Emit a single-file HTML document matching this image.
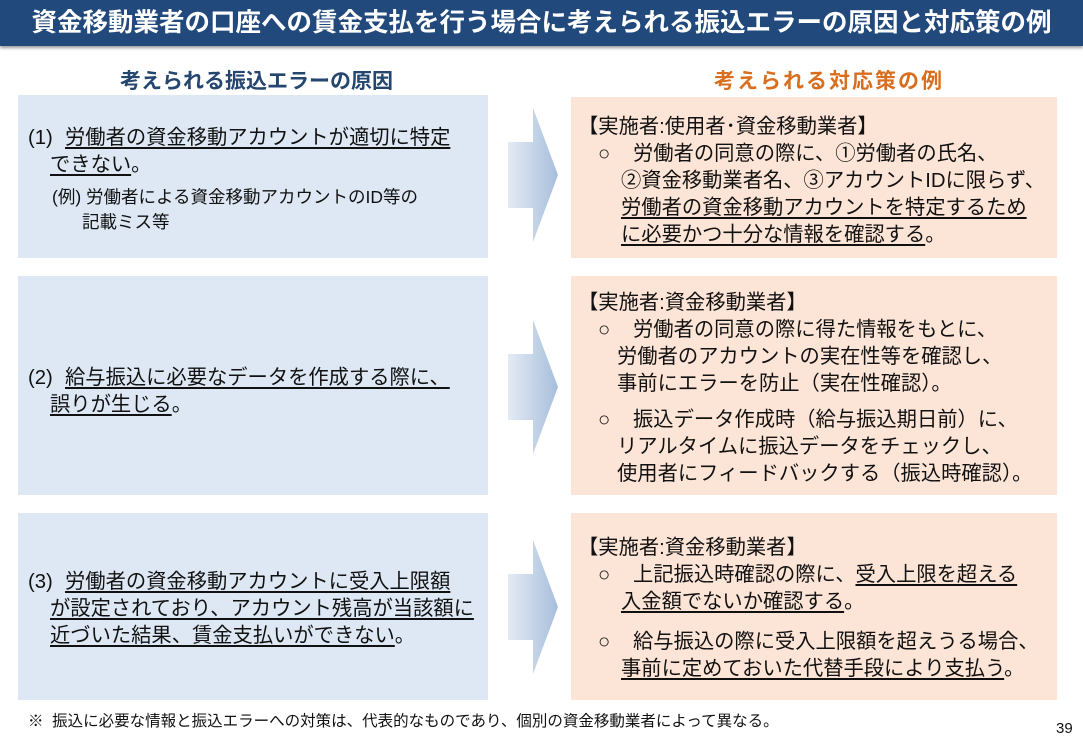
<!DOCTYPE html>
<html><head><meta charset="utf-8"><style>
body{margin:0;width:1083px;height:750px;background:#fff;position:relative;overflow:hidden;font-family:"Liberation Sans","Noto Sans CJK JP",sans-serif;color:#111}
.a{position:absolute;white-space:nowrap}
.title{left:0;top:0;width:1083px;height:46px;background:#21497c;color:#fff;font-size:25.5px;font-weight:bold;line-height:46px;text-align:center;box-shadow:0 2px 3px #999}
.lb{position:absolute;left:18px;width:470px;background:#dde8f4}
.rb{position:absolute;left:571px;width:486px;background:#fce4d6}
.t{font-size:20.3px;line-height:27px}
u{text-decoration:underline;text-underline-offset:3px}
.arrow{position:absolute;left:508px;width:50px;height:134px}
.c{font-size:17px}
</style></head><body>
<div class="a title">資金移動業者の口座への賃金支払を行う場合に考えられる振込エラーの原因と対応策の例</div>
<div class="a" style="left:120px;top:65px;font-size:21px;font-weight:bold;color:#24466f">考えられる振込エラーの原因</div>
<div class="a" style="left:714px;top:65px;font-size:21px;font-weight:bold;color:#d86e1e;letter-spacing:2px">考えられる対応策の例</div>

<div class="lb" style="top:95px;height:163px"></div>
<div class="lb" style="top:276px;height:219px"></div>
<div class="lb" style="top:513px;height:187px"></div>
<div class="rb" style="top:97px;height:161px"></div>
<div class="rb" style="top:276px;height:219px"></div>
<div class="rb" style="top:513px;height:187px"></div>

<svg class="arrow" style="top:108px" viewBox="0 0 50 134"><defs><linearGradient id="g" x1="0" x2="1"><stop offset="0" stop-color="#e4ebf4"/><stop offset="1" stop-color="#a6bedc"/></linearGradient></defs><polygon points="0,34 25,34 25,0 50,67 25,134 25,100 0,100" fill="url(#g)"/></svg>
<svg class="arrow" style="top:320px" viewBox="0 0 50 134"><polygon points="0,34 25,34 25,0 50,67 25,134 25,100 0,100" fill="url(#g)"/></svg>
<svg class="arrow" style="top:540px" viewBox="0 0 50 134"><polygon points="0,34 25,34 25,0 50,67 25,134 25,100 0,100" fill="url(#g)"/></svg>

<div class="a t" style="left:28px;top:125px">(1)</div>
<div class="a t" style="left:65px;top:125px"><u>労働者の資金移動アカウントが適切に特定</u></div>
<div class="a t" style="left:50px;top:152px"><u>できない</u>。</div>
<div class="a" style="left:52px;top:185px;font-size:17.5px;line-height:25px">(例) 労働者による資金移動アカウントのID等の</div>
<div class="a" style="left:82px;top:210px;font-size:17.5px;line-height:25px">記載ミス等</div>

<div class="a t" style="left:28px;top:365px">(2)</div>
<div class="a t" style="left:65px;top:365px"><u>給与振込に必要なデータを作成する際に、</u></div>
<div class="a t" style="left:50px;top:392px"><u>誤りが生じる</u>。</div>

<div class="a t" style="left:28px;top:569px">(3)</div>
<div class="a t" style="left:65px;top:569px"><u>労働者の資金移動アカウントに受入上限額</u></div>
<div class="a t" style="left:50px;top:596px"><u>が設定されており、アカウント残高が当該額に</u></div>
<div class="a t" style="left:50px;top:623px"><u>近づいた結果、賃金支払いができない</u>。</div>

<div class="a t" style="left:578px;top:114px">【実施者:使用者･資金移動業者】</div>
<div class="a t" style="left:598px;top:141px">○</div>
<div class="a t" style="left:633px;top:141px">労働者の同意の際に、①労働者の氏名、</div>
<div class="a t" style="left:621px;top:168px">②資金移動業者名、③アカウントIDに限らず、</div>
<div class="a t" style="left:621px;top:195px"><u>労働者の資金移動アカウントを特定するため</u></div>
<div class="a t" style="left:621px;top:222px"><u>に必要かつ十分な情報を確認する</u>。</div>

<div class="a t" style="left:578px;top:290px">【実施者:資金移動業者】</div>
<div class="a t" style="left:598px;top:317px">○</div>
<div class="a t" style="left:633px;top:317px">労働者の同意の際に得た情報をもとに、</div>
<div class="a t" style="left:617px;top:344px">労働者のアカウントの実在性等を確認し、</div>
<div class="a t" style="left:617px;top:371px">事前にエラーを防止（実在性確認）。</div>
<div class="a t" style="left:598px;top:407px">○</div>
<div class="a t" style="left:633px;top:407px">振込データ作成時（給与振込期日前）に、</div>
<div class="a t" style="left:617px;top:434px">リアルタイムに振込データをチェックし、</div>
<div class="a t" style="left:617px;top:461px">使用者にフィードバックする（振込時確認）。</div>

<div class="a t" style="left:578px;top:535px">【実施者:資金移動業者】</div>
<div class="a t" style="left:598px;top:562px">○</div>
<div class="a t" style="left:633px;top:562px">上記振込時確認の際に、<u>受入上限を超える</u></div>
<div class="a t" style="left:621px;top:589px"><u>入金額でないか確認する</u>。</div>
<div class="a t" style="left:598px;top:629px">○</div>
<div class="a t" style="left:633px;top:629px">給与振込の際に受入上限額を超えうる場合、</div>
<div class="a t" style="left:621px;top:656px"><u>事前に定めておいた代替手段により支払う</u>。</div>

<div class="a" style="left:28px;top:709px;font-size:15.5px">※&nbsp;&nbsp;振込に必要な情報と振込エラーへの対策は、代表的なものであり、個別の資金移動業者によって異なる。</div>
<div class="a" style="left:1056px;top:720px;font-size:15px">39</div>
</body></html>
